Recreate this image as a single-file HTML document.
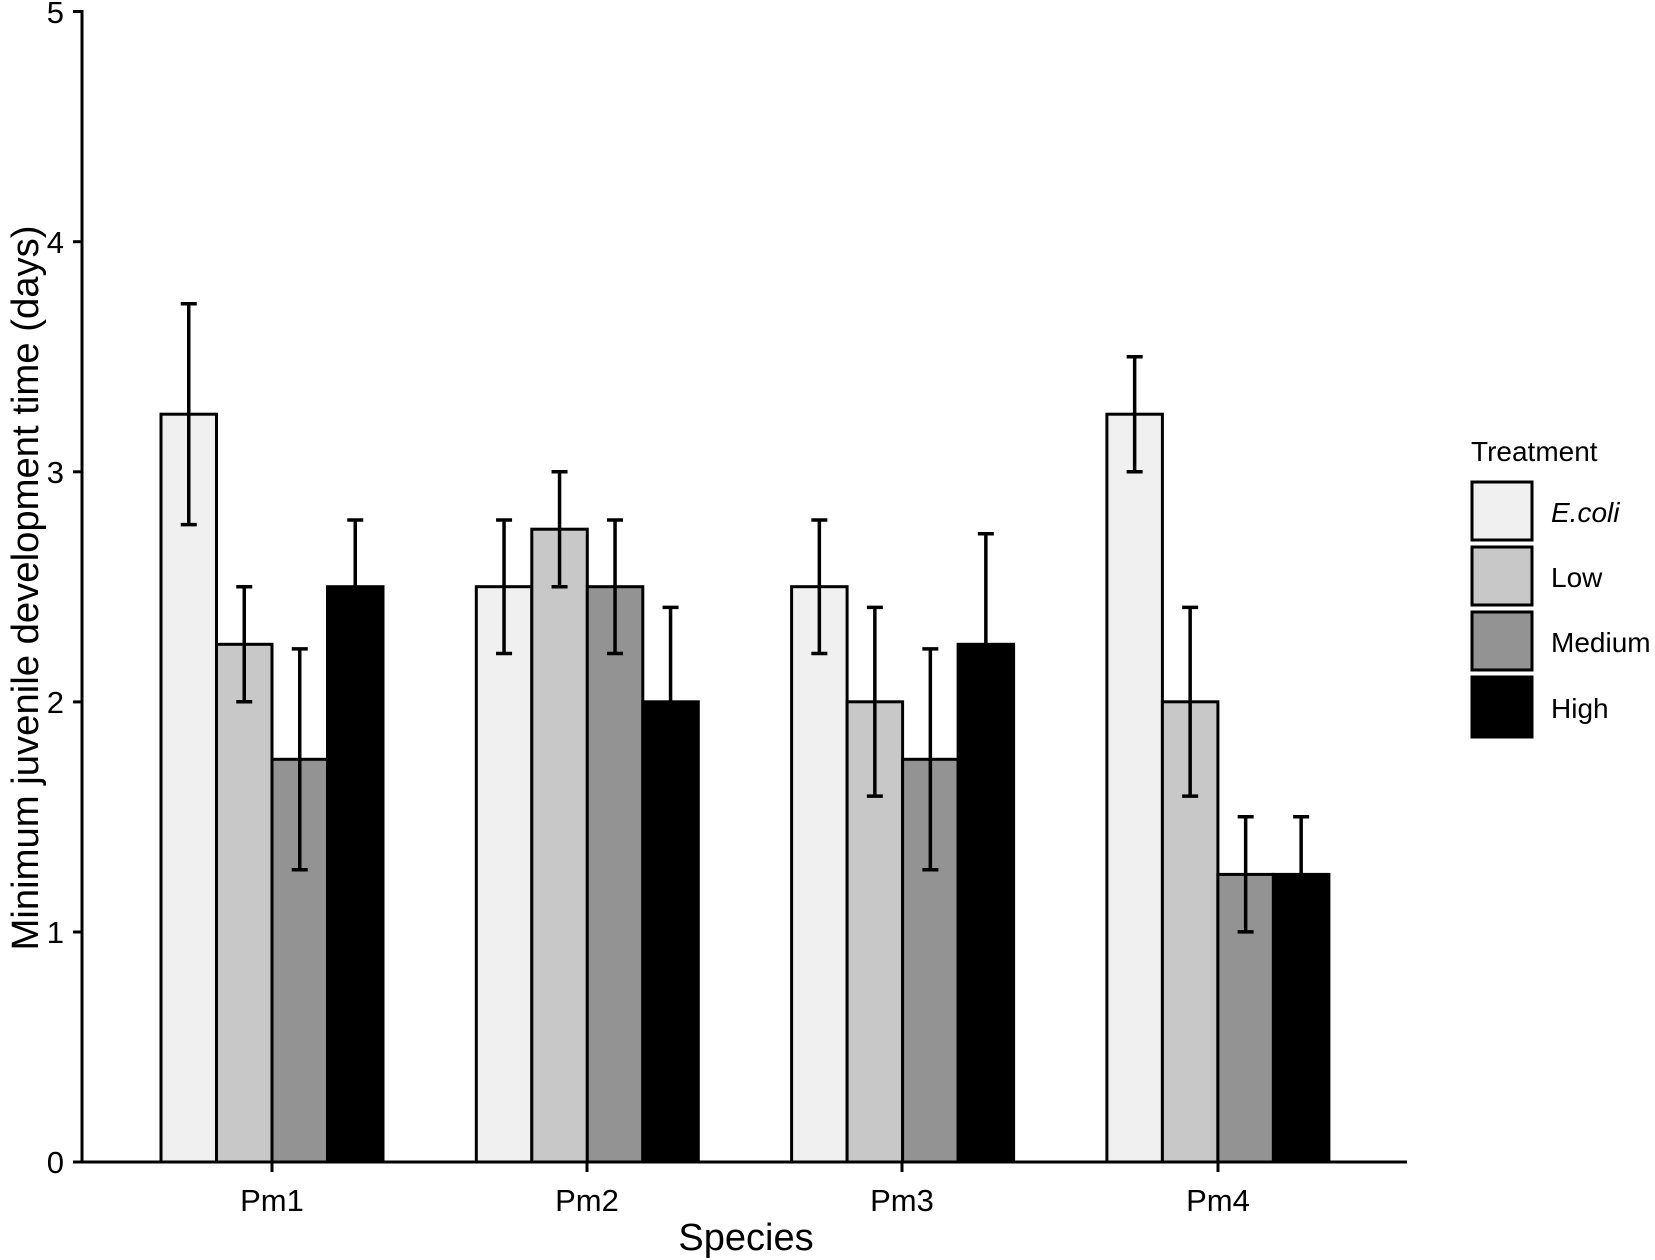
<!DOCTYPE html>
<html><head><meta charset="utf-8"><style>html,body{margin:0;padding:0;background:#fff}svg{display:block}</style></head>
<body>
<svg width="1655" height="1260" viewBox="0 0 1655 1260" xmlns="http://www.w3.org/2000/svg" font-family="Liberation Sans, Arial, sans-serif">
<rect width="1655" height="1260" fill="#fff"/>
<g stroke="#000" stroke-width="3">
<rect x="161" y="414.2" width="55.5" height="747.8" fill="#f0f0f0"/>
<rect x="216.5" y="644.3" width="55.5" height="517.7" fill="#c8c8c8"/>
<rect x="272" y="759.3" width="55.5" height="402.7" fill="#939393"/>
<rect x="327.5" y="586.7" width="55.5" height="575.3" fill="#000"/>
<rect x="476.3" y="586.7" width="55.5" height="575.3" fill="#f0f0f0"/>
<rect x="531.8" y="529.2" width="55.5" height="632.8" fill="#c8c8c8"/>
<rect x="587.3" y="586.7" width="55.5" height="575.3" fill="#939393"/>
<rect x="642.8" y="701.8" width="55.5" height="460.2" fill="#000"/>
<rect x="791.6" y="586.7" width="55.5" height="575.3" fill="#f0f0f0"/>
<rect x="847.1" y="701.8" width="55.5" height="460.2" fill="#c8c8c8"/>
<rect x="902.6" y="759.3" width="55.5" height="402.7" fill="#939393"/>
<rect x="958.1" y="644.3" width="55.5" height="517.7" fill="#000"/>
<rect x="1106.9" y="414.2" width="55.5" height="747.8" fill="#f0f0f0"/>
<rect x="1162.4" y="701.8" width="55.5" height="460.2" fill="#c8c8c8"/>
<rect x="1217.9" y="874.4" width="55.5" height="287.6" fill="#939393"/>
<rect x="1273.4" y="874.4" width="55.5" height="287.6" fill="#000"/>
</g>
<path fill="none" stroke="#000" stroke-width="3.5" d="
M188.75 524.6V303.7M180.75 524.6H196.75M180.75 303.7H196.75
M244.25 701.8V586.7M236.25 701.8H252.25M236.25 586.7H252.25
M299.75 869.8V648.9M291.75 869.8H307.75M291.75 648.9H307.75
M355.25 653.5V520M347.25 653.5H363.25M347.25 520H363.25
M504.05 653.5V520M496.05 653.5H512.05M496.05 520H512.05
M559.55 586.7V471.7M551.55 586.7H567.55M551.55 471.7H567.55
M615.05 653.5V520M607.05 653.5H623.05M607.05 520H623.05
M670.55 796.1V607.4M662.55 796.1H678.55M662.55 607.4H678.55
M819.35 653.5V520M811.35 653.5H827.35M811.35 520H827.35
M874.85 796.1V607.4M866.85 796.1H882.85M866.85 607.4H882.85
M930.35 869.8V648.9M922.35 869.8H938.35M922.35 648.9H938.35
M985.85 754.7V533.8M977.85 754.7H993.85M977.85 533.8H993.85
M1134.65 471.7V356.7M1126.65 471.7H1142.65M1126.65 356.7H1142.65
M1190.15 796.1V607.4M1182.15 796.1H1198.15M1182.15 607.4H1198.15
M1245.65 931.9V816.8M1237.65 931.9H1253.65M1237.65 816.8H1253.65
M1301.15 931.9V816.8M1293.15 931.9H1309.15M1293.15 816.8H1309.15"/>
<g stroke="#000" stroke-width="3">
<line x1="82" y1="10" x2="82" y2="1163.5"/>
<line x1="80.5" y1="1162" x2="1407" y2="1162"/>
<line x1="73" x2="82" y1="11.5" y2="11.5"/>
<line x1="73" x2="82" y1="241.7" y2="241.7"/>
<line x1="73" x2="82" y1="471.8" y2="471.8"/>
<line x1="73" x2="82" y1="701.9" y2="701.9"/>
<line x1="73" x2="82" y1="932" y2="932"/>
<line x1="73" x2="82" y1="1162" y2="1162"/>
<line x1="272" x2="272" y1="1162" y2="1172"/>
<line x1="587" x2="587" y1="1162" y2="1172"/>
<line x1="902" x2="902" y1="1162" y2="1172"/>
<line x1="1218" x2="1218" y1="1162" y2="1172"/>
</g>
<g font-size="31" fill="#000" text-anchor="end">
<text x="64" y="23">5</text>
<text x="64" y="253">4</text>
<text x="64" y="483">3</text>
<text x="64" y="713">2</text>
<text x="64" y="943">1</text>
<text x="64" y="1173">0</text>
</g>
<g font-size="31" fill="#000" text-anchor="middle">
<text x="272" y="1211">Pm1</text>
<text x="587" y="1211">Pm2</text>
<text x="902" y="1211">Pm3</text>
<text x="1218" y="1211">Pm4</text>
</g>
<text x="746" y="1250" font-size="38" text-anchor="middle">Species</text>
<text transform="translate(38,588) rotate(-90)" font-size="38" text-anchor="middle" textLength="725" lengthAdjust="spacingAndGlyphs">Minimum juvenile development time (days)</text>
<text x="1471" y="461" font-size="28">Treatment</text>
<g stroke="#000" stroke-width="3">
<rect x="1472" y="482" width="60" height="58" fill="#f0f0f0"/>
<rect x="1472" y="547" width="60" height="58" fill="#c8c8c8"/>
<rect x="1472" y="612" width="60" height="58" fill="#939393"/>
<rect x="1472" y="677" width="60" height="60" fill="#000"/>
</g>
<g font-size="28" fill="#000">
<text x="1551" y="522" font-style="italic">E.coli</text>
<text x="1551" y="587">Low</text>
<text x="1551" y="652">Medium</text>
<text x="1551" y="718">High</text>
</g>
</svg>
</body></html>
